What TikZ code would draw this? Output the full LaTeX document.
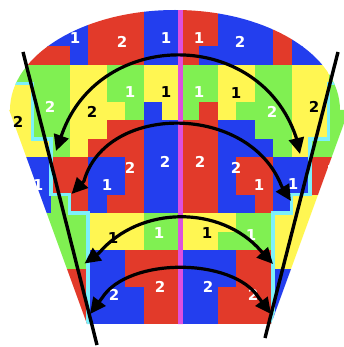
\documentclass[tikz,border=0pt]{standalone}
\usepackage{fontspec}
\newfontfamily\labfont{DejaVu Sans}
\usetikzlibrary{arrows.meta}
\definecolor{cB}{RGB}{35,62,238}
\definecolor{cR}{RGB}{226,58,42}
\definecolor{cY}{RGB}{255,246,82}
\definecolor{cG}{RGB}{128,240,82}
\definecolor{cC}{RGB}{125,240,250}
\definecolor{cP}{RGB}{222,80,222}
\newcommand\GridRow[2]{%
  \foreach \tcol [count=\ci from 0] in {#2}{%
    \fill[fill=c\tcol] ({-4.5+18.5*\ci},{9.5+18.5*#1}) rectangle ++(18.9,18.9);}}
\tikzset{
  lab/.style={font=\labfont\bfseries\fontsize{15}{15}\selectfont, inner sep=0pt},
  labw/.style={lab, text=white},
  labk/.style={lab, text=black},
  maparrow/.style={line width=3.2pt, {Triangle[length=16pt,width=15pt]}-{Triangle[length=16pt,width=15pt]}},
  barline/.style={line width=3.4pt},
  cyanline/.style={draw=cC, line width=3.5pt},
  midline/.style={draw=cP, line width=5pt}
}
\begin{document}
\begin{tikzpicture}[x=1pt,y=-1pt]
\useasboundingbox (0,0) rectangle (343,347);
\fill[white] (0,0) rectangle (343,347);
\begin{scope}
 \clip (87,324) -- (-49,-50) -- (407,-50) -- (271,324) -- cycle;
 \clip (10,110) arc[start angle=180,end angle=360,x radius=165,y radius=100] -- (420,110) -- (420,324) -- (-60,324) -- (-60,110) -- cycle;
 \GridRow{0}{B,B,B,B,B,R,R,R,B,B,R,R,B,B,B,R,R,R,R}
 \GridRow{1}{B,B,B,B,B,R,R,R,B,B,R,R,B,B,B,R,B,B,B}
 \GridRow{2}{R,R,R,R,B,R,R,R,B,B,R,B,B,B,B,R,B,B,B}
 \GridRow{3}{Y,G,G,G,Y,Y,G,G,Y,Y,G,G,Y,Y,G,G,Y,Y,G}
 \GridRow{4}{Y,Y,G,G,Y,Y,G,G,Y,Y,G,G,Y,Y,G,G,Y,Y,G}
 \GridRow{5}{Y,Y,G,G,Y,Y,Y,G,B,Y,G,R,Y,G,G,G,Y,Y,G}
 \GridRow{6}{Y,Y,G,G,Y,Y,R,R,B,B,R,R,B,B,G,G,Y,Y,G}
 \GridRow{7}{Y,Y,Y,G,Y,R,R,R,B,B,R,R,B,B,B,G,Y,G,G}
 \GridRow{8}{B,B,B,R,R,B,B,R,B,B,R,R,B,R,R,B,B,R,R}
 \GridRow{9}{B,B,B,R,R,B,B,R,B,B,R,R,B,R,R,B,B,R,R}
 \GridRow{10}{B,B,B,G,R,B,R,R,B,B,R,R,B,B,R,B,Y,Y,R}
 \GridRow{11}{G,G,G,G,G,Y,Y,Y,G,G,Y,Y,Y,G,G,Y,Y,Y,Y}
 \GridRow{12}{G,G,G,G,G,Y,Y,Y,G,G,Y,Y,G,G,G,Y,Y,Y,Y}
 \GridRow{13}{G,G,G,G,G,B,B,R,R,R,B,B,B,R,R,Y,Y,Y,Y}
 \GridRow{14}{R,R,R,R,R,B,B,R,R,R,B,B,B,R,R,B,B,B,B}
 \GridRow{15}{R,R,R,R,R,B,B,B,R,R,B,B,R,R,R,B,B,B,B}
 \GridRow{16}{R,R,R,R,R,B,B,B,R,R,B,B,R,R,R,B,B,B,B}
 \draw[cyanline] (8,83.5) -| (32.5,139) -| (51,194.5) -| (69.5,213) -| (88,330);
 \draw[cyanline] (352,83.5) -| (328.5,139) -| (310,194.5) -| (291.5,213) -| (273,330);
 \draw[midline] (180.5,0) -- (180.5,330);
\end{scope}
% labels
\node[labw] (t1) at (75,38) {1};
\node[labw] (t2) at (122,42) {2};
\node[labw] (t3) at (166,38) {1};
\node[labw] (t4) at (199,38) {1};
\node[labw] (t5) at (240,42) {2};
\node[labk] (m1) at (18,122) {2};
\node[labw] (m2) at (50,107) {2};
\node[labk] (m3) at (92,112) {2};
\node[labw] (m4) at (130,92) {1};
\node[labk] (m5) at (166,92) {1};
\node[labw] (m6) at (199,92) {1};
\node[labk] (m7) at (236,93) {1};
\node[labw] (m8) at (272,112) {2};
\node[labk] (m9) at (314,107) {2};
\node[labw] (n1) at (38,185) {1};
\node[labw] (n2) at (107,185) {1};
\node[labw] (n3) at (130,168) {2};
\node[labw] (n4) at (165,162) {2};
\node[labw] (n5) at (200,162) {2};
\node[labw] (n6) at (236,168) {2};
\node[labw] (n7) at (259,185) {1};
\node[labw] (n8) at (293,184) {1};
\node[labk] (p1) at (113,238) {1};
\node[labw] (p2) at (159,233) {1};
\node[labk] (p3) at (207,233) {1};
\node[labw] (p4) at (251,235) {1};
\node[labw] (q1) at (114,295) {2};
\node[labw] (q2) at (160,287) {2};
\node[labw] (q3) at (208,287) {2};
\node[labw] (q4) at (253,295) {2};
% arc end points
\coordinate (a1L) at (56,151);  \coordinate (b1L) at (62,134);
\coordinate (b1R) at (296,137); \coordinate (a1R) at (300,154);
\coordinate (a2L) at (71.5,194); \coordinate (b2L) at (84,181);
\coordinate (b2R) at (281.5,186); \coordinate (a2R) at (291,201);
\coordinate (a3L) at (84.5,263.5); \coordinate (b3L) at (99,253);
\coordinate (b3R) at (261,251); \coordinate (a3R) at (273,264);
\coordinate (a4L) at (90,314); \coordinate (b4L) at (102,298);
\coordinate (b4R) at (259,298); \coordinate (a4R) at (271,314);
\draw[maparrow] (a1L) -- (b1L) .. controls (100,28) and (259,28) .. (b1R) -- (a1R);
\draw[maparrow] (a2L) -- (b2L) .. controls (106,103) and (249,103) .. (b2R) -- (a2R);
\draw[maparrow] (a3L) -- (b3L) .. controls (140,205) and (221,205) .. (b3R) -- (a3R);
\draw[maparrow] (a4L) -- (b4L) .. controls (128,257) and (233,257) .. (b4R) -- (a4R);
% long straight lines
\coordinate (lt) at (23,52); \coordinate (lb) at (97,345);
\coordinate (rt) at (338,52); \coordinate (rb) at (265,338);
\draw[barline] (lt) -- (lb);
\draw[barline] (rt) -- (rb);
\end{tikzpicture}
\end{document}
